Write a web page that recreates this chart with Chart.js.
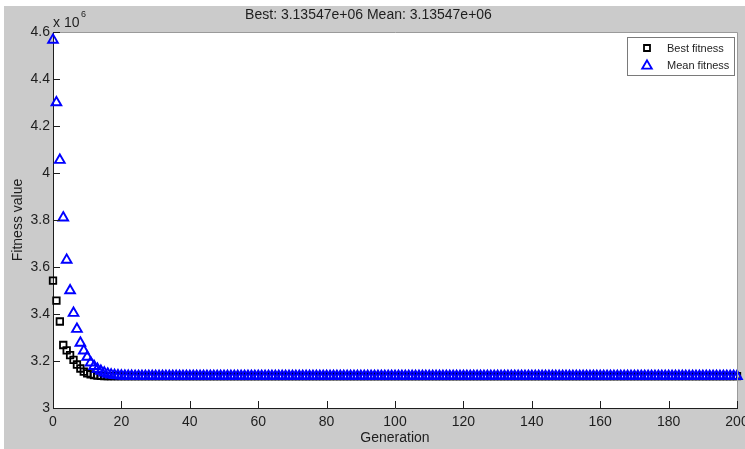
<!DOCTYPE html>
<html>
<head>
<meta charset="utf-8">
<script src="https://cdn.jsdelivr.net/npm/chart.js@4.4.1/dist/chart.umd.min.js"></script>
<style>
  html, body { margin: 0; padding: 0; background: #fff; }
  canvas { display: block; }
</style>
</head>
<body>
<canvas id="gaChart" width="745" height="449"></canvas>
<script>
// fitness values in units of 10^6, one per generation 0..200
const bestFitness = [
    3.542, 3.457, 3.368, 3.268, 3.245, 3.225, 3.205, 3.185, 3.168, 3.155,
    3.147, 3.143, 3.140, 3.138, 3.137, 3.136, 3.1358, 3.1356, 3.1355, 3.1355,
    3.1355, 3.1355, 3.1355, 3.1355, 3.1355, 3.1355, 3.1355, 3.1355, 3.1355, 3.1355,
    3.1355, 3.1355, 3.1355, 3.1355, 3.1355, 3.1355, 3.1355, 3.1355, 3.1355, 3.1355,
    3.1355, 3.1355, 3.1355, 3.1355, 3.1355, 3.1355, 3.1355, 3.1355, 3.1355, 3.1355,
    3.1355, 3.1355, 3.1355, 3.1355, 3.1355, 3.1355, 3.1355, 3.1355, 3.1355, 3.1355,
    3.1355, 3.1355, 3.1355, 3.1355, 3.1355, 3.1355, 3.1355, 3.1355, 3.1355, 3.1355,
    3.1355, 3.1355, 3.1355, 3.1355, 3.1355, 3.1355, 3.1355, 3.1355, 3.1355, 3.1355,
    3.1355, 3.1355, 3.1355, 3.1355, 3.1355, 3.1355, 3.1355, 3.1355, 3.1355, 3.1355,
    3.1355, 3.1355, 3.1355, 3.1355, 3.1355, 3.1355, 3.1355, 3.1355, 3.1355, 3.1355,
    3.1355, 3.1355, 3.1355, 3.1355, 3.1355, 3.1355, 3.1355, 3.1355, 3.1355, 3.1355,
    3.1355, 3.1355, 3.1355, 3.1355, 3.1355, 3.1355, 3.1355, 3.1355, 3.1355, 3.1355,
    3.1355, 3.1355, 3.1355, 3.1355, 3.1355, 3.1355, 3.1355, 3.1355, 3.1355, 3.1355,
    3.1355, 3.1355, 3.1355, 3.1355, 3.1355, 3.1355, 3.1355, 3.1355, 3.1355, 3.1355,
    3.1355, 3.1355, 3.1355, 3.1355, 3.1355, 3.1355, 3.1355, 3.1355, 3.1355, 3.1355,
    3.1355, 3.1355, 3.1355, 3.1355, 3.1355, 3.1355, 3.1355, 3.1355, 3.1355, 3.1355,
    3.1355, 3.1355, 3.1355, 3.1355, 3.1355, 3.1355, 3.1355, 3.1355, 3.1355, 3.1355,
    3.1355, 3.1355, 3.1355, 3.1355, 3.1355, 3.1355, 3.1355, 3.1355, 3.1355, 3.1355,
    3.1355, 3.1355, 3.1355, 3.1355, 3.1355, 3.1355, 3.1355, 3.1355, 3.1355, 3.1355,
    3.1355, 3.1355, 3.1355, 3.1355, 3.1355, 3.1355, 3.1355, 3.1355, 3.1355, 3.1355,
    3.1355
];
const meanFitness = [
    4.566, 4.300, 4.055, 3.810, 3.630, 3.500, 3.404, 3.336, 3.277, 3.244,
    3.217, 3.193, 3.178, 3.166, 3.157, 3.150, 3.145, 3.141, 3.139, 3.138,
    3.137, 3.1365, 3.136, 3.1357, 3.1356, 3.1356, 3.1356, 3.1356, 3.1356, 3.1356,
    3.1356, 3.1356, 3.1356, 3.1356, 3.1356, 3.1356, 3.1356, 3.1356, 3.1356, 3.1356,
    3.1356, 3.1356, 3.1356, 3.1356, 3.1356, 3.1356, 3.1356, 3.1356, 3.1356, 3.1356,
    3.1356, 3.1356, 3.1356, 3.1356, 3.1356, 3.1356, 3.1356, 3.1356, 3.1356, 3.1356,
    3.1356, 3.1356, 3.1356, 3.1356, 3.1356, 3.1356, 3.1356, 3.1356, 3.1356, 3.1356,
    3.1356, 3.1356, 3.1356, 3.1356, 3.1356, 3.1356, 3.1356, 3.1356, 3.1356, 3.1356,
    3.1356, 3.1356, 3.1356, 3.1356, 3.1356, 3.1356, 3.1356, 3.1356, 3.1356, 3.1356,
    3.1356, 3.1356, 3.1356, 3.1356, 3.1356, 3.1356, 3.1356, 3.1356, 3.1356, 3.1356,
    3.1356, 3.1356, 3.1356, 3.1356, 3.1356, 3.1356, 3.1356, 3.1356, 3.1356, 3.1356,
    3.1356, 3.1356, 3.1356, 3.1356, 3.1356, 3.1356, 3.1356, 3.1356, 3.1356, 3.1356,
    3.1356, 3.1356, 3.1356, 3.1356, 3.1356, 3.1356, 3.1356, 3.1356, 3.1356, 3.1356,
    3.1356, 3.1356, 3.1356, 3.1356, 3.1356, 3.1356, 3.1356, 3.1356, 3.1356, 3.1356,
    3.1356, 3.1356, 3.1356, 3.1356, 3.1356, 3.1356, 3.1356, 3.1356, 3.1356, 3.1356,
    3.1356, 3.1356, 3.1356, 3.1356, 3.1356, 3.1356, 3.1356, 3.1356, 3.1356, 3.1356,
    3.1356, 3.1356, 3.1356, 3.1356, 3.1356, 3.1356, 3.1356, 3.1356, 3.1356, 3.1356,
    3.1356, 3.1356, 3.1356, 3.1356, 3.1356, 3.1356, 3.1356, 3.1356, 3.1356, 3.1356,
    3.1356, 3.1356, 3.1356, 3.1356, 3.1356, 3.1356, 3.1356, 3.1356, 3.1356, 3.1356,
    3.1356, 3.1356, 3.1356, 3.1356, 3.1356, 3.1356, 3.1356, 3.1356, 3.1356, 3.1356,
    3.1355
];
const seriesNames = ['Best fitness', 'Mean fitness'];
const titleText = 'Best: 3.13547e+06 Mean: 3.13547e+06';
const xTicks = [0, 20, 40, 60, 80, 100, 120, 140, 160, 180, 200];
const yTicks = [3, 3.2, 3.4, 3.6, 3.8, 4, 4.2, 4.4, 4.6];

const FONT = 'Arial, "Liberation Sans", Helvetica, sans-serif';
const INK = '#1e1e1e';

function toPoints(arr) {
    return arr.map((v, i) => ({ x: i, y: v }));
}

// figure background, white axes box, inward ticks, exponent note and legend
const matlabLook = {
    id: 'matlabLook',
    beforeDraw(chart) {
        const ctx = chart.ctx;
        const a = chart.chartArea;
        ctx.save();
        ctx.fillStyle = '#ffffff';
        ctx.fillRect(0, 0, chart.width, chart.height);
        ctx.fillStyle = '#cbcbcb';
        ctx.fillRect(4, 6, chart.width - 4, chart.height - 6);
        ctx.fillStyle = '#ffffff';
        ctx.fillRect(a.left, a.top, a.right - a.left, a.bottom - a.top);
        ctx.restore();
    },
    afterDraw(chart) {
        const ctx = chart.ctx;
        const a = chart.chartArea;
        const xs = chart.scales.x;
        const ys = chart.scales.y;
        ctx.save();
        // light top/right box edges
        ctx.strokeStyle = '#9a9a9a';
        ctx.lineWidth = 1;
        ctx.beginPath();
        ctx.moveTo(a.left, a.top + 0.5);
        ctx.lineTo(a.right + 0.5, a.top + 0.5);
        ctx.lineTo(a.right + 0.5, a.bottom);
        ctx.stroke();
        // inward tick marks
        ctx.strokeStyle = INK;
        ctx.beginPath();
        yTicks.forEach(v => {
            const y = Math.round(ys.getPixelForValue(v)) + 0.5;
            ctx.moveTo(a.left, y);
            ctx.lineTo(a.left + 7, y);
        });
        xTicks.forEach(v => {
            const x = Math.round(xs.getPixelForValue(v)) + 0.5;
            ctx.moveTo(x, a.bottom);
            ctx.lineTo(x, a.bottom - 7);
        });
        ctx.stroke();
        // exponent note
        ctx.fillStyle = INK;
        ctx.textBaseline = 'alphabetic';
        ctx.textAlign = 'left';
        ctx.font = '14px ' + FONT;
        ctx.fillText('x 10', a.left, 27);
        ctx.font = '9px ' + FONT;
        ctx.fillText('6', a.left + 28, 17);
        // legend
        const lx = 627, ly = 37, lw = 107, lh = 38;
        ctx.fillStyle = '#ffffff';
        ctx.fillRect(lx, ly, lw, lh);
        ctx.strokeStyle = '#7a7a7a';
        ctx.lineWidth = 1;
        ctx.strokeRect(lx + 0.5, ly + 0.5, lw, lh);
        const ds = chart.data.datasets;
        const rows = [ly + 11, ly + 28];
        ds.forEach((d, i) => {
            const cx = lx + 20, cy = rows[i];
            ctx.strokeStyle = d.borderColor;
            ctx.lineWidth = d.borderWidth;
            ctx.beginPath();
            if (d.pointStyle === 'rect') {
                ctx.rect(cx - 3, cy - 3, 6, 6);
            } else {
                const r = 5.5;
                ctx.moveTo(cx, cy - r * 0.75 - 0.5);
                ctx.lineTo(cx + r * 0.866, cy + r * 0.75 - 0.5);
                ctx.lineTo(cx - r * 0.866, cy + r * 0.75 - 0.5);
                ctx.closePath();
            }
            ctx.stroke();
            ctx.fillStyle = INK;
            ctx.font = '11px ' + FONT;
            ctx.textBaseline = 'middle';
            ctx.fillText(d.label, lx + 40, cy + 0.5);
        });
        ctx.restore();
    }
};

const ctx = document.getElementById('gaChart').getContext('2d');
new Chart(ctx, {
    type: 'scatter',
    data: {
        datasets: [{
            label: seriesNames[0],
            data: toPoints(bestFitness),
            pointStyle: 'rect',
            pointRadius: 4.6,
            borderColor: '#000000',
            backgroundColor: 'rgba(0,0,0,0)',
            borderWidth: 1.8,
            clip: false,
            order: 1
        }, {
            label: seriesNames[1],
            data: toPoints(meanFitness),
            pointStyle: 'triangle',
            pointRadius: 5.6,
            borderColor: '#0000ff',
            backgroundColor: 'rgba(0,0,0,0)',
            borderWidth: 1.9,
            clip: false,
            order: 0
        }]
    },
    options: {
        responsive: false,
        animation: false,
        layout: { padding: { left: 0, top: 0, right: 8, bottom: 0 } },
        plugins: {
            legend: { display: false },
            tooltip: { enabled: false },
            title: {
                display: true,
                text: titleText,
                color: INK,
                font: { family: FONT, size: 14, weight: 'normal' },
                padding: { top: 7, bottom: 8.2 }
            }
        },
        scales: {
            x: {
                type: 'linear',
                min: 0,
                max: 200,
                afterFit(scale) {
                    scale.height = 41;
                    scale.paddingLeft = 0;
                    scale.paddingRight = 0;
                },
                afterBuildTicks(scale) { scale.ticks = xTicks.map(v => ({ value: v })); },
                grid: { display: false, drawTicks: false },
                border: { display: true, color: INK, width: 1 },
                ticks: {
                    color: INK,
                    padding: 6,
                    maxRotation: 0,
                    font: { family: FONT, size: 14 }
                },
                title: {
                    display: true,
                    text: 'Generation',
                    color: INK,
                    font: { family: FONT, size: 14 },
                    padding: { top: 0, bottom: 2 }
                }
            },
            y: {
                min: 3,
                max: 4.6,
                afterFit(scale) {
                    scale.width = 53;
                    scale.paddingTop = 0;
                    scale.paddingBottom = 0;
                },
                afterBuildTicks(scale) { scale.ticks = yTicks.map(v => ({ value: v })); },
                grid: { display: false, drawTicks: false },
                border: { display: true, color: INK, width: 1 },
                ticks: {
                    color: INK,
                    padding: 3,
                    font: { family: FONT, size: 14 },
                    callback: v => String(Number(v.toFixed(1)))
                },
                title: {
                    display: true,
                    text: 'Fitness value',
                    color: INK,
                    font: { family: FONT, size: 14 },
                    padding: { top: 10, bottom: 0 }
                }
            }
        }
    },
    plugins: [matlabLook]
});
</script>
</body>
</html>
